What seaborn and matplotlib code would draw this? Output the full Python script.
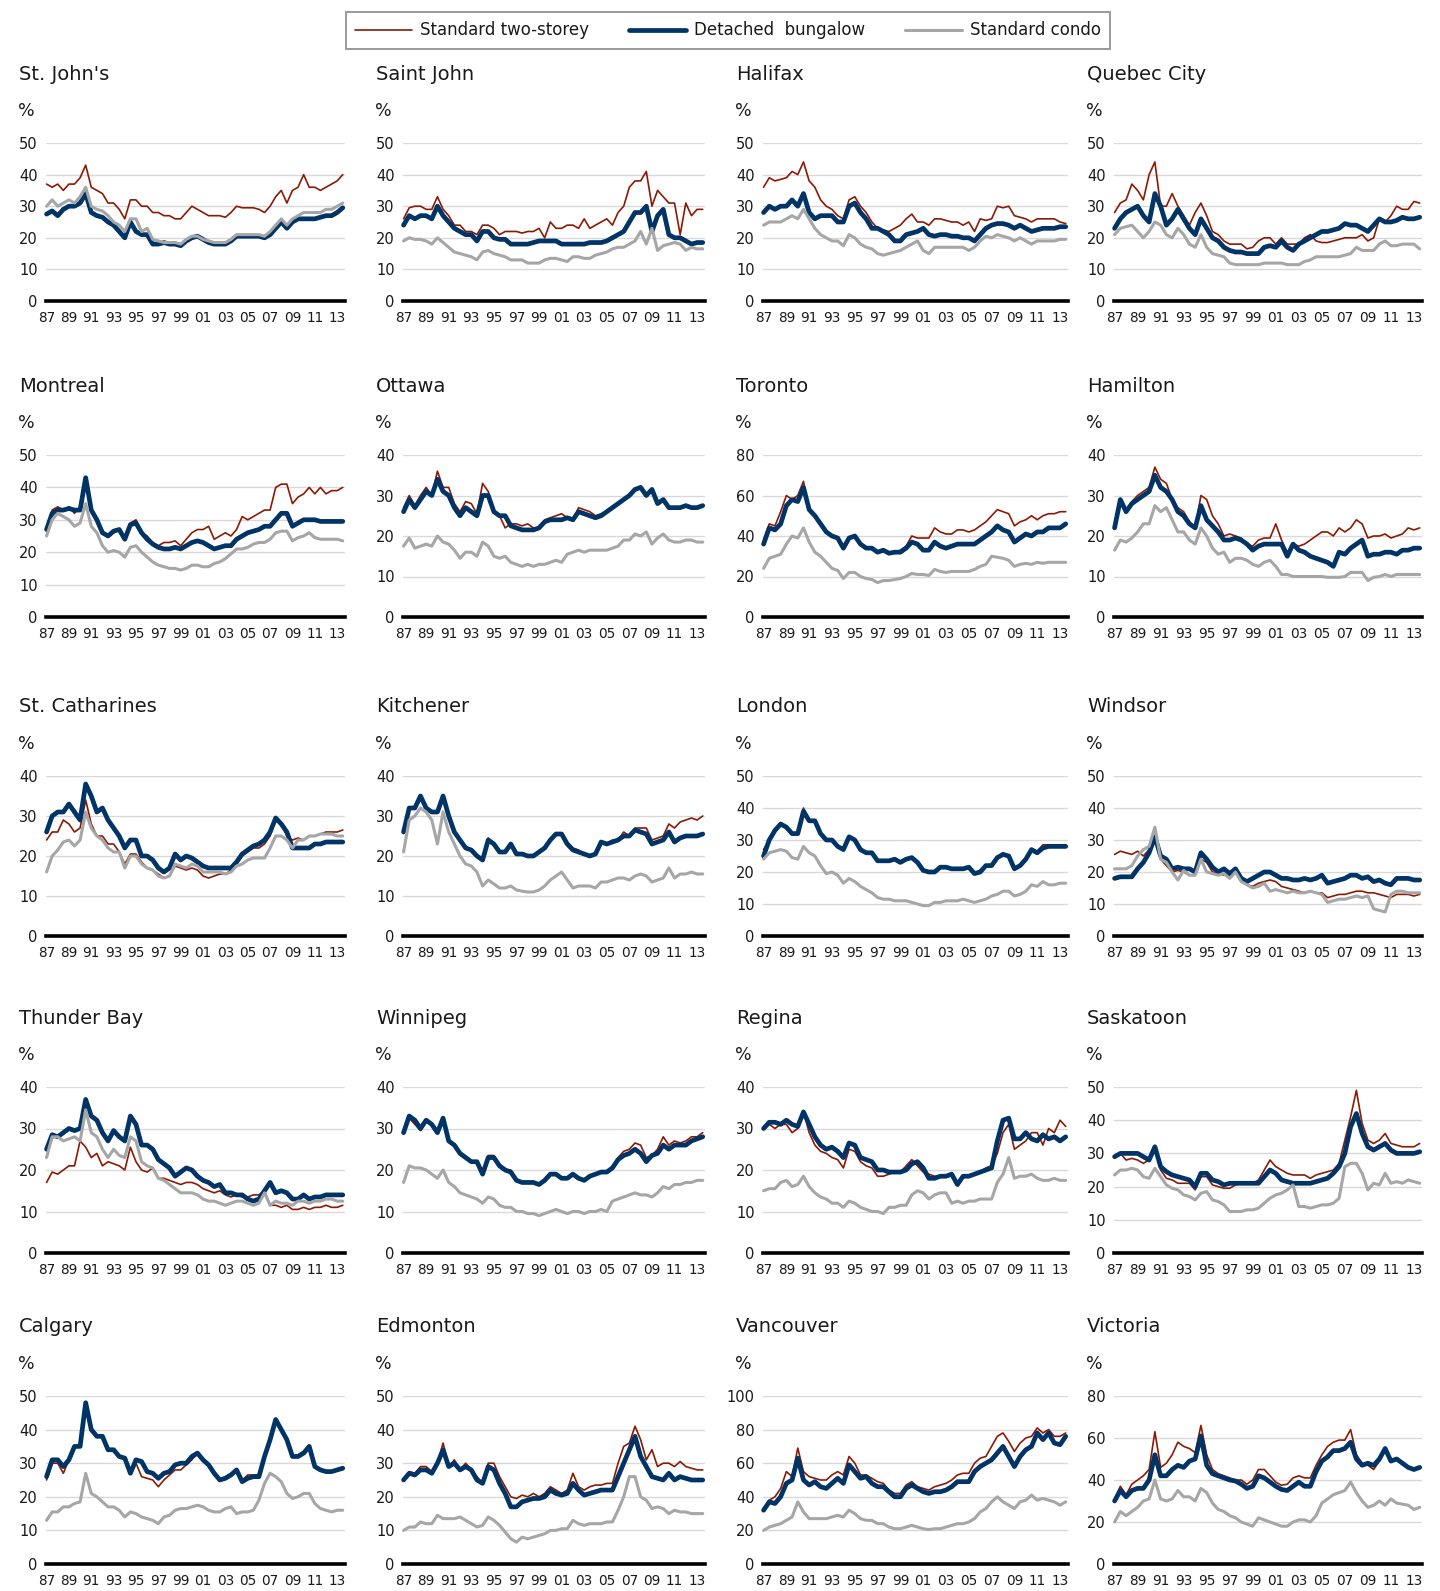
import matplotlib
matplotlib.use("Agg")
import numpy as np
import pandas as pd
import matplotlib.pyplot as plt
import seaborn as sns
from matplotlib.lines import Line2D

# half-year points, 1987.0 .. 2013.5
YEARS = np.arange(1987, 2014, 0.5)

SERIES_NAMES = ["Standard two-storey", "Detached  bungalow", "Standard condo"]

# ---- data (values in %) ----
SJN_TWO = [37, 36, 37, 35, 37, 37, 39, 43, 36, 35, 34, 31, 31, 29, 26, 32, 32, 30, 30, 28, 28, 27, 27, 26, 26, 28, 30,
           29, 28, 27, 27, 27, 26.5, 28, 30, 29.5, 29.5, 29.5, 29, 28, 30, 33, 35, 31, 35, 36, 40, 36, 36, 35, 36, 37, 38, 40]
SJN_BUNG = [27.5, 28.5, 27, 29, 30, 30, 31, 34, 28, 27, 26.5, 25, 24, 22, 20, 25, 22, 21, 21, 18, 18, 18.5, 18, 18, 17.5,
            19, 20, 20.5, 19.5, 18.5, 18, 18, 18, 19, 20.5, 20.5, 20.5, 20.5, 20.5, 20, 21, 23, 25, 23, 25, 26, 26, 26, 26,
            26.5, 27, 27, 28, 29.5]
SJN_CONDO = [30, 32, 30, 31, 32, 31, 33, 36, 30, 29, 28.5, 27, 25, 24, 22, 26, 26, 22, 23, 19.5, 19, 18.5, 18.5, 18.5, 18,
             19.5, 20.5, 20.5, 19.5, 19, 18.5, 18.5, 18.5, 19.5, 21, 21, 21, 21, 21, 20.5, 22, 24, 26, 24, 26, 27, 28, 28,
             28, 28, 29, 29, 30, 31]

SNJ_TWO = [26, 29.5, 30, 30, 29, 29, 33, 29, 27, 24, 24, 22, 22, 21, 24, 24, 23, 21, 22, 22, 22, 21.5, 22, 22, 23, 20, 25,
           23, 23, 24, 24, 23, 26, 23, 24, 25, 26, 24, 28, 30, 36, 38, 38, 41, 30, 35, 33, 31, 31, 21, 31, 27, 29, 29]
SNJ_BUNG = [24, 27, 26, 27, 27, 26, 30, 27, 25, 23, 22, 21, 21, 19, 22, 22, 20, 19.5, 19.5, 18, 18, 18, 18, 18.5, 19, 19,
            19, 19, 18, 18, 18, 18, 18, 18.5, 18.5, 18.5, 19, 20, 21, 22, 25, 28, 28, 30, 22, 27, 29, 21, 20, 20, 19, 18,
            18.5, 18.5]
SNJ_CONDO = [19, 20, 19.5, 19.5, 19, 18, 20, 18.5, 17, 15.5, 15, 14.5, 14, 13, 15.5, 16, 15, 14.5, 14, 13, 13, 13, 12, 12,
             12, 13, 13.5, 13.5, 13, 12.5, 14, 14, 13.5, 13.5, 14.5, 15, 15.5, 16.5, 17, 17, 18, 19, 22, 18, 23, 16, 17.5,
             18, 18.5, 18, 16, 17, 16.5, 16.5]

HFX_TWO = [36, 39, 38, 38.5, 39, 41, 40, 44, 38, 36, 32, 30, 29, 27, 26, 32, 33, 30, 28, 25, 23, 22.5, 22, 23, 24, 26,
           27.5, 25, 25, 24, 26, 26, 25.5, 25, 25, 24, 25, 22, 26, 25.5, 26, 30, 29.5, 30, 27, 26.5, 26, 25, 26, 26, 26,
           26, 25, 24.5]
HFX_BUNG = [28, 30, 29, 30, 30, 32, 30, 34, 28, 26, 27, 27, 27, 25, 25, 30, 31, 28, 26, 23, 23, 22, 21, 19, 19, 21, 21.5,
            22, 23, 21, 20.5, 21, 21, 20.5, 20.5, 20, 20, 19, 21, 23, 24, 24.5, 24.5, 24, 23, 24, 23, 22, 22.5, 23, 23, 23,
            23.5, 23.5]
HFX_CONDO = [24, 25, 25, 25, 26, 27, 26, 29, 26, 23, 21, 20, 19, 19, 17.5, 21, 20, 18, 17, 16.5, 15, 14.5, 15, 15.5, 16,
             17, 18, 19, 16, 15, 17, 17, 17, 17, 17, 17, 16, 17, 19, 20.5, 20, 21, 20.5, 20, 19, 20, 19, 18, 19, 19, 19,
             19, 19.5, 19.5]

QC_TWO = [28, 31, 32, 37, 35, 32, 40, 44, 30, 30, 34, 30, 27, 24, 28, 31, 27, 22, 21, 19, 18, 18, 18, 16.5, 17, 19, 20,
          20, 18, 20, 18, 18, 18, 20, 21, 19, 18.5, 18.5, 19, 19.5, 20, 20, 20, 21, 19, 20, 26, 25, 27, 30, 29, 29, 31.5, 31]
QC_BUNG = [23, 26, 28, 29, 30, 27, 25, 34, 30, 24, 26, 29, 26, 23, 21, 26, 23, 20, 19, 17, 16, 15.5, 15.5, 15, 15, 15,
           17, 17.5, 17, 19, 17, 16, 18, 19, 20, 21, 22, 22, 22.5, 23, 24.5, 24, 24, 23, 22, 24, 26, 25, 25, 25.5, 26.5,
           26, 26, 26.5]
QC_CONDO = [21, 23, 23.5, 24, 22, 20, 22, 25, 24, 21, 20, 23, 21, 18, 17, 21, 17, 15, 14.5, 14, 12, 11.5, 11.5, 11.5,
            11.5, 11.5, 12, 12, 12, 12, 11.5, 11.5, 11.5, 12.5, 13, 14, 14, 14, 14, 14, 14.5, 15, 17, 16, 16, 16, 18, 19,
            17.5, 17.5, 18, 18, 18, 16.5]

MTL_TWO = [27, 33, 34, 33, 34, 32, 34, 43, 33, 30, 26, 25.5, 26, 27, 25, 29, 30, 26, 25, 23, 22, 23, 23, 23.5, 22, 24,
           26, 27, 27, 28, 24, 25, 26, 25, 27, 31, 30, 31, 32, 33, 33, 40, 41, 41, 35, 37, 38, 40, 38, 40, 38, 39, 39, 40]
MTL_BUNG = [27, 32, 33, 33, 33.5, 33, 33, 43, 33, 30, 26, 25, 26.5, 27, 24, 28.5, 29, 26, 24, 22.5, 21.5, 21, 21, 21.5,
            21, 22, 23, 23.5, 23, 22, 21, 21.5, 22, 22, 24, 25, 26, 26.5, 27, 28, 28, 30, 32, 32, 28, 29, 30, 30, 30,
            29.5, 29.5, 29.5, 29.5, 29.5]
MTL_CONDO = [25, 30, 32, 31, 30, 28, 29, 35, 28, 26, 22, 20, 20.5, 20, 18.5, 21.5, 22, 20, 18.5, 17, 16, 15.5, 15, 15,
             14.5, 15, 16, 16, 15.5, 15.5, 16.5, 17, 18, 19.5, 21, 21, 21.5, 22.5, 23, 23, 24, 26, 26.5, 26.5, 23.5, 24.5,
             25, 26, 24.5, 24, 24, 24, 24, 23.5]

OTT_TWO = [27, 30, 27.5, 30, 32, 30, 36, 32, 32, 28, 26, 28.5, 28, 25.5, 33, 31, 26, 25, 22, 23, 23, 22.5, 23, 22, 22,
           24, 24.5, 25, 25.5, 24.5, 24, 27, 26.5, 26, 25, 25.5, 26, 27, 28, 29, 30, 31.5, 32, 30, 31.5, 28, 29, 27, 27,
           27, 27.5, 27, 27, 27.5]
OTT_BUNG = [26, 29, 27, 29, 31, 30, 34, 31, 30, 27, 25, 27, 26, 25, 30, 30, 26, 25, 25, 22.5, 22, 21.5, 21.5, 21.5, 22,
            23.5, 24, 24, 24, 24.5, 24, 26, 25.5, 25, 24.5, 25, 26, 27, 28, 29, 30, 31.5, 32, 30, 31.5, 28, 29, 27, 27, 27,
            27.5, 27, 27, 27.5]
OTT_CONDO = [17.5, 19.5, 17, 17.5, 18, 17.5, 20, 18.5, 18, 16.5, 14.5, 16, 16, 15, 18.5, 17.5, 15, 14.5, 15, 13.5, 13,
             12.5, 13, 12.5, 13, 13, 13.5, 14, 13.5, 15.5, 16, 16.5, 16, 16.5, 16.5, 16.5, 16.5, 17, 17.5, 19, 19, 20.5,
             20, 21, 18, 19.5, 20.5, 19, 18.5, 18.5, 19, 19, 18.5, 18.5]

TOR_TWO = [38, 46, 45, 52, 60, 58, 60, 67, 53, 50, 46, 42, 40, 39, 34, 39, 40, 36, 34, 34, 32, 33, 31.5, 32, 33, 35, 40,
           39, 39, 39, 44, 42, 41, 41, 43, 43, 42, 43, 45, 47, 50, 53, 52, 51, 45, 47, 48, 50, 48, 50, 51, 51, 52, 52]
TOR_BUNG = [36, 44, 43, 46, 55, 58, 57, 64, 53, 50, 46, 42, 40, 39, 34, 39, 40, 36, 34, 34, 32, 33, 31.5, 32, 32, 34, 37,
            36, 33, 33, 37, 35, 34, 35, 36, 36, 36, 36, 38, 40, 42, 45, 43, 42, 37, 39, 41, 40, 42, 42, 44, 44, 44, 46]
TOR_CONDO = [24, 29, 30, 31, 36, 40, 39, 44, 37, 32, 30, 27, 24, 23, 19, 22, 22, 20, 19, 18.5, 17, 18, 18, 18.5, 19, 20,
             21.5, 21, 21, 20.5, 23.5, 22.5, 22, 22.5, 22.5, 22.5, 22.5, 23.5, 25, 26, 30, 29.5, 29, 28, 25, 26, 26.5, 26,
             27, 26.5, 27, 27, 27, 27]

HAM_TWO = [22, 28, 26, 28.5, 30, 31, 32, 37, 34, 33, 29, 27, 26, 23.5, 22, 30, 29, 25, 23, 20, 20.5, 20, 19.5, 18, 17.5,
           19, 19.5, 19.5, 23, 19, 16, 18, 17.5, 18, 19, 20, 21, 21, 20, 22, 21, 22, 24, 23, 19.5, 20, 20, 20.5, 19.5, 20,
           20.5, 22, 21.5, 22]
HAM_BUNG = [22, 29, 26, 28, 29, 30, 31, 35, 32, 31, 29, 26, 25, 23, 22, 27.5, 24, 22.5, 21, 19, 19, 19.5, 19, 18, 16.5,
            17.5, 18, 18, 18, 18, 15, 18, 16.5, 16, 15, 14.5, 14, 13.5, 12.5, 16, 15.5, 17, 18, 19, 15, 15.5, 15.5, 16, 16,
            15.5, 16.5, 16.5, 17, 17]
HAM_CONDO = [16.5, 19, 18.5, 19.5, 21, 23, 23, 27.5, 26, 27, 24, 21, 21, 19, 18, 22, 20, 17, 15.5, 16, 13.5, 14.5, 14.5,
             14, 13, 12.5, 13.5, 14, 12.5, 10.5, 10.5, 10, 10, 10, 10, 10, 10, 9.8, 9.8, 9.8, 10, 11, 11, 11, 9, 9.8, 10,
             10.5, 10, 10.5, 10.5, 10.5, 10.5, 10.5]

STC_TWO = [24, 26, 26, 29, 28, 26, 27, 34, 28, 25, 25, 23, 23, 21, 18, 20.5, 20.5, 18.5, 17, 16.5, 15.5, 14.5, 15, 17.5,
           17, 16.5, 17, 16.5, 15, 14.5, 15, 15.5, 15.5, 16.5, 18, 20, 21, 22, 22, 23, 25, 29.5, 28, 25, 24, 24.5, 24, 25,
           25, 25.5, 26, 26, 26, 26.5]
STC_BUNG = [26, 30, 31, 31, 33, 31, 29, 38, 35, 31, 32, 29, 27, 25, 22, 24, 24, 20, 20, 19, 17, 16, 17, 20.5, 19, 20,
            19.5, 18.5, 17.5, 17, 17, 17, 17, 17, 18.5, 20.5, 21.5, 22.5, 23, 24, 26, 29.5, 28, 26, 22, 22, 22, 22, 23, 23,
            23.5, 23.5, 23.5, 23.5]
STC_CONDO = [16, 20, 21.5, 23.5, 24, 22.5, 24, 31, 27, 25, 24, 22, 21, 21, 17, 20, 20, 18, 17, 16.5, 15, 14.5, 15, 18,
             17.5, 17, 18, 17.5, 16, 16, 16, 16, 15.5, 16, 17.5, 18, 19, 19.5, 19.5, 19.5, 22, 25, 25, 24, 22, 24, 24, 25,
             25, 25.5, 25.5, 25.5, 25, 25]

KIT_TWO = [26, 32, 32, 35, 32, 31, 31, 35, 30, 26, 24, 22, 21.5, 20, 19, 24.5, 23, 21, 21, 23, 20.5, 20.5, 20, 20, 21,
           22, 24, 25.5, 25.5, 23.5, 22, 21.5, 20.5, 20, 20.5, 23.5, 23, 24, 24, 26, 25, 27, 27, 27, 24, 24.5, 25, 28, 27,
           28.5, 29, 29.5, 29, 30]
KIT_BUNG = [26, 32, 32, 35, 32, 31, 31, 35, 30, 26, 24, 22, 21.5, 20, 19, 24, 23, 21, 21, 23, 20.5, 20.5, 20, 20, 21, 22,
            24, 25.5, 25.5, 23, 21.5, 21, 20.5, 20, 20.5, 23.5, 23, 23.5, 24, 25, 25, 26.5, 26, 25.5, 23, 23.5, 24, 26,
            23.5, 24.5, 25, 25, 25, 25.5]
KIT_CONDO = [21, 29, 30, 32, 31, 29, 23, 31, 26, 23, 20, 18, 17.5, 16, 12.5, 14, 13, 12, 12, 12.5, 11.5, 11.2, 11, 11,
             11.5, 12.5, 14, 15, 16, 14, 12, 12.5, 12.5, 12.5, 12, 13.5, 13.5, 14, 14.5, 14.5, 14, 15, 15.5, 15, 13.5, 14,
             14.5, 17, 14.5, 15.5, 15.5, 16, 15.5, 15.5]

LON_TWO = [27, 30, 33, 35, 34, 32, 32, 40, 36, 36, 32, 30, 30, 28, 27, 31, 30, 27, 26, 26, 23.5, 23.5, 23.5, 24, 23, 24,
           24.5, 23, 20.5, 20, 20, 21.5, 21.5, 21, 21, 21, 21.5, 19.5, 20.5, 22, 22, 24.5, 26, 25, 21, 22, 24, 27, 26.5,
           28.5, 28.5, 28.5, 28.5, 28.5]
LON_BUNG = [25, 30, 33, 35, 34, 32, 32, 39, 36, 36, 32, 30, 30, 28, 27, 31, 30, 27, 26, 26, 23.5, 23.5, 23.5, 24, 23, 24,
            24.5, 23, 20.5, 20, 20, 21.5, 21.5, 21, 21, 21, 21.5, 19.5, 20, 22, 22, 24.5, 25.5, 25, 21, 22, 24, 27, 26,
            27.5, 28, 28, 28, 28]
LON_CONDO = [24, 26, 26.5, 27, 26.5, 24.5, 24, 28, 26, 25, 22, 19.5, 20, 19, 16.5, 18, 17, 15.5, 14.5, 13.5, 12, 11.5,
             11.5, 11, 11, 11, 10.5, 10, 9.5, 9.5, 10.5, 10.5, 11, 11, 11, 11.5, 11, 10.5, 11, 11.5, 12.5, 13, 14, 14, 12.5,
             13, 14, 16, 15.5, 17, 16, 16, 16.5, 16.5]

WSR_TWO = [25.5, 26.5, 26, 25.5, 26.5, 25, 27, 31, 24, 22, 20, 20.5, 20, 19, 19, 24, 23, 20, 19.5, 19, 19, 20.5, 18, 16,
           15.5, 16.5, 17, 17.5, 17, 15.5, 15, 14.5, 14, 13.5, 14, 13.5, 13.5, 12, 12.5, 13, 13, 13.5, 14, 14, 13.5, 13.5,
           13, 12.5, 12, 13, 13, 13, 12.5, 13]
WSR_BUNG = [18, 18.5, 18.5, 18.5, 21, 23, 26, 31, 25, 24, 21, 21.5, 21, 21, 20, 26, 24, 21.5, 20, 21, 19.5, 21, 18, 17,
            18, 19, 20, 20, 19, 18, 18, 17.5, 17.5, 18, 17.5, 18, 19, 16.5, 17, 17.5, 18, 19, 19, 18, 18.5, 17, 17.5, 16.5,
            16, 18, 18, 18, 17.5, 17.5]
WSR_CONDO = [21, 21, 21, 22, 25, 27, 28, 34, 24, 23, 20, 17.5, 20.5, 19, 19, 24, 20, 19.5, 19, 19.5, 18, 20, 17, 16, 15,
             15.5, 16.5, 14, 14.5, 14, 13.5, 14, 13.5, 13.5, 14, 13.5, 13, 10.5, 11, 11.5, 11.5, 12, 12.5, 12, 12.5, 8.5,
             8, 7.5, 13, 14, 14, 13.5, 13.5, 13.5]

TBY_TWO = [17, 19.5, 19, 20, 21, 21, 27, 25.5, 23, 24, 21, 22, 21.5, 21, 20, 25.5, 22, 20, 19.5, 20.5, 18, 18, 17.5, 17,
           16.5, 17, 17, 16.5, 15.5, 15, 14.5, 15, 14, 13.5, 14, 13.5, 13.5, 14, 14, 15, 11.5, 11.5, 11, 11.5, 10.5, 10.5,
           11, 10.5, 11, 11, 11.5, 11, 11, 11.5]
TBY_BUNG = [25, 28.5, 28, 29, 30, 29.5, 30, 37, 33, 32, 29, 27, 29.5, 28, 27, 33, 31, 26, 26, 25, 22.5, 21.5, 20.5, 18.5,
            19.5, 20.5, 20, 18.5, 17.5, 17, 16, 16.5, 14.5, 14.5, 14, 14, 13, 12.5, 13, 15, 17, 14.5, 15, 14.5, 13, 13, 14,
            13, 13.5, 13.5, 14, 14, 14, 14]
TBY_CONDO = [23, 28, 28, 27, 27.5, 28, 27, 34.5, 29, 28, 25, 23, 25, 23.5, 23, 28, 27, 22, 21, 20.5, 18, 17.5, 16.5,
             15.5, 14.5, 14.5, 14.5, 14, 13, 12.5, 12.5, 12, 11.5, 12, 12.5, 12.5, 12, 11.5, 12, 14.5, 11.5, 12.5, 12, 12,
             11.5, 12.5, 12.5, 12, 12.5, 12.5, 13, 13, 12.5, 12.5]

WPG_TWO = [29, 32.5, 31, 29.5, 32, 31, 29, 32.5, 27, 26, 24, 23, 22, 22, 19, 23.5, 23.5, 21, 20, 20, 17.5, 17, 17, 17,
           16.5, 17.5, 19, 19, 18, 18, 19, 18, 17.5, 18.5, 19, 19.5, 19.5, 20.5, 23, 24.5, 25, 26.5, 26, 23, 23.5, 25, 28,
           26, 27, 26.5, 27, 28, 28, 29]
WPG_BUNG = [29, 33, 32, 30, 32, 31, 29, 32.5, 27, 26, 24, 23, 22, 22, 19, 23, 23, 21, 20, 19.5, 17.5, 17, 17, 17, 16.5,
            17.5, 19, 19, 18, 18, 19, 18, 17.5, 18.5, 19, 19.5, 19.5, 20.5, 22.5, 23.5, 24, 25, 24, 22, 23.5, 24, 26, 25,
            26, 26, 26, 27, 27.5, 28]
WPG_CONDO = [17, 21, 20.5, 20.5, 20, 19, 18, 20, 17, 16, 14.5, 14, 13.5, 13, 12, 13.5, 13, 11.5, 11, 11, 10, 10, 9.5,
             9.5, 9, 9.5, 10, 10.5, 10, 9.5, 10, 10, 9.5, 10, 10, 10.5, 10, 12.5, 13, 13.5, 14, 14.5, 14, 14, 13.5, 14.5,
             16, 15.5, 16.5, 16.5, 17, 17, 17.5, 17.5]

REG_TWO = [30, 31, 30, 31, 31, 29, 30, 34, 29, 26, 24.5, 24, 23, 22.5, 20.5, 25, 24.5, 22, 21, 20.5, 18.5, 18.5, 19, 19.5,
           19.5, 21, 22.5, 21, 19.5, 19, 18.5, 18.5, 18.5, 19, 17, 18.5, 18.5, 19, 19.5, 20.5, 21, 24, 29, 31, 25, 26, 27,
           29, 29, 26, 30, 29, 32, 30.5]
REG_BUNG = [30, 31.5, 31.5, 31, 32, 31, 30.5, 34, 31, 28, 26, 25, 25.5, 24.5, 23, 26.5, 26, 23, 22.5, 22, 20, 20, 19.5,
            19.5, 19.5, 20, 21.5, 22, 20.5, 18, 18, 18.5, 18.5, 19, 16.5, 18.5, 18.5, 19, 19.5, 20, 20.5, 27, 32, 32.5,
            27.5, 27.5, 29, 27.5, 27, 28.5, 27.5, 28, 27, 28]
REG_CONDO = [15, 15.5, 15.5, 17, 17.5, 16, 16.5, 18.5, 16, 14.5, 13.5, 13, 12, 12, 11, 12.5, 12, 11, 10.5, 10, 10, 9.5,
             11, 11, 11.5, 11.5, 14, 15, 14.5, 13, 14, 14.5, 14.5, 12, 12.5, 12, 12.5, 12.5, 13, 13, 13, 17, 19, 23, 18,
             18.5, 18.5, 19, 18, 17.5, 17.5, 18, 17.5, 17.5]

SAS_TWO = [29, 30, 28, 28.5, 28, 27, 28, 31, 25, 22.5, 22, 21, 21, 21, 19, 23, 23, 20.5, 20, 19.5, 19.5, 20.5, 21, 21,
           21, 22, 25, 28, 26, 25, 24, 23.5, 23.5, 23.5, 22.5, 23.5, 24, 24.5, 25, 27, 34, 41, 49, 39, 34, 33, 34, 36,
           33, 32.5, 32, 32, 32, 33]
SAS_BUNG = [29, 30, 30, 30, 30, 29, 28, 32, 26, 24.5, 23.5, 23, 22.5, 22, 20, 24, 24, 22, 21.5, 20.5, 21, 21, 21, 21, 21,
            21, 23, 25, 24, 22, 21.5, 21, 21, 21, 21, 21.5, 22, 22.5, 24, 26, 30, 38, 42, 36, 32, 31, 32, 33, 31, 30, 30,
            30, 30, 30.5]
SAS_CONDO = [23.5, 25, 25, 25.5, 25, 23, 22.5, 25.5, 23, 20.5, 19.5, 19, 17.5, 17, 16, 18, 18.5, 16, 15.5, 14.5, 12.5,
             12.5, 12.5, 13, 13, 13.5, 15, 16.5, 17.5, 18, 19, 20.5, 14, 14, 13.5, 14, 14.5, 14.5, 15, 16.5, 26, 27, 27,
             24, 19, 21, 20.5, 24, 21, 21.5, 21, 22, 21.5, 21]

CAL_TWO = [25, 30, 30, 27, 31, 35, 35, 48, 40, 38, 38, 34, 34, 32, 31.5, 28, 30, 26, 25.5, 25, 23, 25, 26.5, 28, 28,
           29.5, 31, 33, 31, 29.5, 27, 25, 26, 27, 28, 25, 26.5, 26.5, 26.5, 32, 38, 43, 40, 37, 32, 32.5, 33.5, 35, 29,
           28, 27.5, 27.5, 28, 28.5]
CAL_BUNG = [26, 31, 31, 29, 31, 35, 35, 48, 40, 38, 38, 34, 34, 32, 31.5, 27, 31, 30.5, 27.5, 27, 25.5, 27, 27.5, 29.5,
            30, 30, 32, 33, 31, 29.5, 27, 25, 25.5, 26.5, 28, 24.5, 25.5, 26, 26, 32, 37, 43, 40, 37, 32, 32, 33, 35, 29,
            28, 27.5, 27.5, 28, 28.5]
CAL_CONDO = [13, 15.5, 15.5, 17, 17, 18, 18.5, 27, 21, 20, 18.5, 17, 17, 16, 14, 15.5, 15, 14, 13.5, 13, 12, 14, 14.5,
             16, 16.5, 16.5, 17, 17.5, 17, 16, 15.5, 15.5, 16.5, 17, 15, 15.5, 15.5, 16, 19, 24, 27, 26, 24.5, 21, 19.5,
             20, 21, 21, 18, 16.5, 16, 15.5, 16, 16]

EDM_TWO = [25, 27.5, 27, 29, 29, 27.5, 30, 36, 29, 31, 28, 30, 28, 26, 24, 30, 30, 26, 23, 20, 19.5, 20.5, 20, 21, 20,
           21, 23, 22, 21, 22, 27, 23, 22, 23, 23.5, 23.5, 24, 24, 30, 35, 36, 41, 37, 31, 34, 29, 30, 30, 29, 30.5, 29,
           28.5, 28, 28]
EDM_BUNG = [25, 27, 26.5, 28, 28, 27, 30, 34, 29, 30, 28, 29, 28, 25, 24, 29, 28, 24, 21, 17, 17, 18.5, 19, 19.5, 19.5,
            20, 22, 21, 20.5, 21, 24, 22, 20.5, 21, 21.5, 22, 22, 22, 26, 30, 34, 38, 32, 29, 26, 25.5, 25, 27, 25, 26,
            25.5, 25, 25, 25]
EDM_CONDO = [10, 11, 11, 12.5, 12, 12, 14.5, 13.5, 13.5, 13.5, 14, 13, 12, 11, 11.5, 14, 13, 11.5, 9.5, 7.5, 6.5, 8, 7.5,
             8, 8.5, 9, 10, 10, 10.5, 10.5, 13, 12, 11.5, 12, 12, 12, 12.5, 12.5, 16, 20, 26, 26, 20, 19, 16.5, 17, 16.5,
             15, 16, 15.5, 15.5, 15, 15, 15]

VAN_TWO = [33, 38, 40, 45, 55, 52, 69, 55, 52, 51, 50, 50, 53, 55, 53, 64, 60, 53, 53, 51, 49, 48, 44, 42, 42, 47, 49,
           46, 45, 44, 46, 47, 48, 50, 53, 54, 54, 60, 63, 64, 70, 76, 78, 73, 67, 72, 75, 76, 81, 78, 80, 76, 76, 78]
VAN_BUNG = [32, 37, 36, 40, 48, 50, 63, 50, 47, 49, 46, 45, 48, 51, 48, 59, 55, 51, 52, 48, 46, 46, 43, 40, 40, 45, 47,
            45, 43, 42, 43, 43, 44, 46, 49, 49, 49, 55, 58, 60, 62, 66, 70, 64, 58, 64, 68, 70, 78, 74, 78, 72, 71, 76]
VAN_CONDO = [20, 22, 23, 24, 26, 28, 37, 31, 27, 27, 27, 27, 28, 29, 28, 32, 30, 27, 26, 26, 24, 24, 22, 21, 21, 22, 23,
             22, 21, 20.5, 21, 21, 22, 23, 24, 24, 25, 27, 31, 33, 37, 40, 37, 35, 33, 37, 38, 41, 38, 39, 38, 37, 35, 37]

VIC_TWO = [31, 37, 33, 38, 40, 42, 45, 63, 46, 48, 52, 58, 56, 55, 53, 66, 52, 45, 43, 42, 41, 40, 40, 38, 40, 45, 45,
           42, 39, 37.5, 38, 41, 42, 41, 41, 47, 52, 56, 58, 59, 59, 64, 52, 48, 47, 45, 49, 55, 50, 50, 48, 46, 45, 46]
VIC_BUNG = [30, 35, 32, 35, 36, 36, 40, 52, 42, 42, 45, 47, 46, 49, 50, 61, 47, 43, 42, 41, 40, 39.5, 38, 36, 37, 42, 41,
            39, 37, 35.5, 35, 37, 39, 37, 37, 44, 49, 51, 54, 54, 55, 58, 50, 47, 48, 47, 50, 55, 49, 50, 48, 46, 45, 46]
VIC_CONDO = [20, 25, 23, 25, 27, 30, 31, 40, 31, 30, 31, 35, 32, 32, 30, 36, 34, 29, 26, 25, 23, 22, 20, 19, 18, 22, 21,
             20, 19, 18, 18, 20, 21, 21, 20, 23, 29, 31, 33, 34, 35, 39, 34, 30, 27, 28, 30, 28, 31, 29, 28.5, 28, 26, 27]

CITIES = ["St. John's", "Saint John", "Halifax", "Quebec City",
          "Montreal", "Ottawa", "Toronto", "Hamilton",
          "St. Catharines", "Kitchener", "London", "Windsor",
          "Thunder Bay", "Winnipeg", "Regina", "Saskatoon",
          "Calgary", "Edmonton", "Vancouver", "Victoria"]
CITY_DATA = [
    (SJN_TWO, SJN_BUNG, SJN_CONDO), (SNJ_TWO, SNJ_BUNG, SNJ_CONDO), (HFX_TWO, HFX_BUNG, HFX_CONDO),
    (QC_TWO, QC_BUNG, QC_CONDO), (MTL_TWO, MTL_BUNG, MTL_CONDO), (OTT_TWO, OTT_BUNG, OTT_CONDO),
    (TOR_TWO, TOR_BUNG, TOR_CONDO), (HAM_TWO, HAM_BUNG, HAM_CONDO), (STC_TWO, STC_BUNG, STC_CONDO),
    (KIT_TWO, KIT_BUNG, KIT_CONDO), (LON_TWO, LON_BUNG, LON_CONDO), (WSR_TWO, WSR_BUNG, WSR_CONDO),
    (TBY_TWO, TBY_BUNG, TBY_CONDO), (WPG_TWO, WPG_BUNG, WPG_CONDO), (REG_TWO, REG_BUNG, REG_CONDO),
    (SAS_TWO, SAS_BUNG, SAS_CONDO), (CAL_TWO, CAL_BUNG, CAL_CONDO), (EDM_TWO, EDM_BUNG, EDM_CONDO),
    (VAN_TWO, VAN_BUNG, VAN_CONDO), (VIC_TWO, VIC_BUNG, VIC_CONDO),
]
Y_MAX = [50, 50, 50, 50, 50, 40, 80, 40, 40, 40, 50, 50, 40, 40, 40, 50, 50, 50, 100, 80]
Y_STEP = [10, 10, 10, 10, 10, 10, 20, 10, 10, 10, 10, 10, 10, 10, 10, 10, 10, 10, 20, 20]
X_TICKS = list(range(1987, 2014, 2))
X_LABELS = [f"{y % 100:02d}" for y in X_TICKS]

# long table for seaborn
rows = []
for city, series in zip(CITIES, CITY_DATA):
    for name, vals in zip(SERIES_NAMES, series):
        if len(vals) != len(YEARS):
            raise ValueError(f"{city} / {name}: {len(vals)} values")
        rows.append(pd.DataFrame({"city": city, "series": name, "year": YEARS, "value": vals}))
df = pd.concat(rows, ignore_index=True)

# ---- styling ----
sns.set_style("white")
plt.rcParams["font.family"] = ["DejaVu Sans"]

COLORS = {SERIES_NAMES[0]: "#8B1A05", SERIES_NAMES[1]: "#003366", SERIES_NAMES[2]: "#A6A6A6"}
WIDTHS = {SERIES_NAMES[0]: 1.2, SERIES_NAMES[1]: 3.4, SERIES_NAMES[2]: 2.2}
TEXT = "#1a1a1a"

W, H = 1440, 1591
COL_LEFT = [46, 403, 763, 1114]
COL_WIDTH = [299, 302, 305, 308]
ROW_ZERO = [301, 617, 936, 1253, 1564]
ROW_TOP = [143, 455, 776, 1087, 1396]

fig = plt.figure(figsize=(W / 100, H / 100), dpi=100)

for i, city in enumerate(CITIES):
    r, c = divmod(i, 4)
    left = COL_LEFT[c] / W
    bottom = 1 - ROW_ZERO[r] / H
    width = COL_WIDTH[c] / W
    height = (ROW_ZERO[r] - ROW_TOP[r]) / H
    ax = fig.add_axes([left, bottom, width, height])

    sub = df[df["city"] == city]
    for name in SERIES_NAMES:
        sns.lineplot(data=sub[sub["series"] == name], x="year", y="value", ax=ax,
                     color=COLORS[name], linewidth=WIDTHS[name], legend=False, clip_on=False)

    ax.set_xlim(1986.95, 2013.7)
    ax.set_ylim(0, Y_MAX[i])
    ax.set_yticks(np.arange(0, Y_MAX[i] + 1, Y_STEP[i]))
    ax.set_xticks(X_TICKS)
    ax.set_xticklabels(X_LABELS)
    ax.set_xlabel("")
    ax.set_ylabel("")
    ax.tick_params(axis="y", length=0, labelsize=10.5, colors=TEXT, pad=6)
    ax.tick_params(axis="x", length=0, labelsize=9.8, colors=TEXT, pad=7)
    ax.yaxis.grid(True, color="#D9D9D9", linewidth=1.0)
    ax.set_axisbelow(True)
    for side in ["left", "right", "top"]:
        ax.spines[side].set_visible(False)
    ax.spines["bottom"].set_color("black")
    ax.spines["bottom"].set_linewidth(2.6)
    ax.spines["bottom"].set_zorder(5)

    ax.annotate(city, xy=(0, 1), xycoords="axes fraction", xytext=(-27, 69),
                textcoords="offset pixels", ha="left", va="center", fontsize=14, color=TEXT)
    ax.annotate("%", xy=(0, 1), xycoords="axes fraction", xytext=(-28, 32),
                textcoords="offset pixels", ha="left", va="center", fontsize=12.5, color=TEXT)

handles = [Line2D([], [], color=COLORS[n], linewidth=WIDTHS[n]) for n in SERIES_NAMES]
leg = fig.legend(handles, SERIES_NAMES, loc="upper center", bbox_to_anchor=(728 / W, 1 - 4 / H),
                 ncol=3, frameon=True, fancybox=False, fontsize=12, handlelength=3.4,
                 handletextpad=0.5, columnspacing=2.4, borderpad=0.55)
leg.get_frame().set_edgecolor("#808080")
leg.get_frame().set_linewidth(1.4)
for t in leg.get_texts():
    t.set_color(TEXT)

fig.savefig("out.png", dpi=100)
